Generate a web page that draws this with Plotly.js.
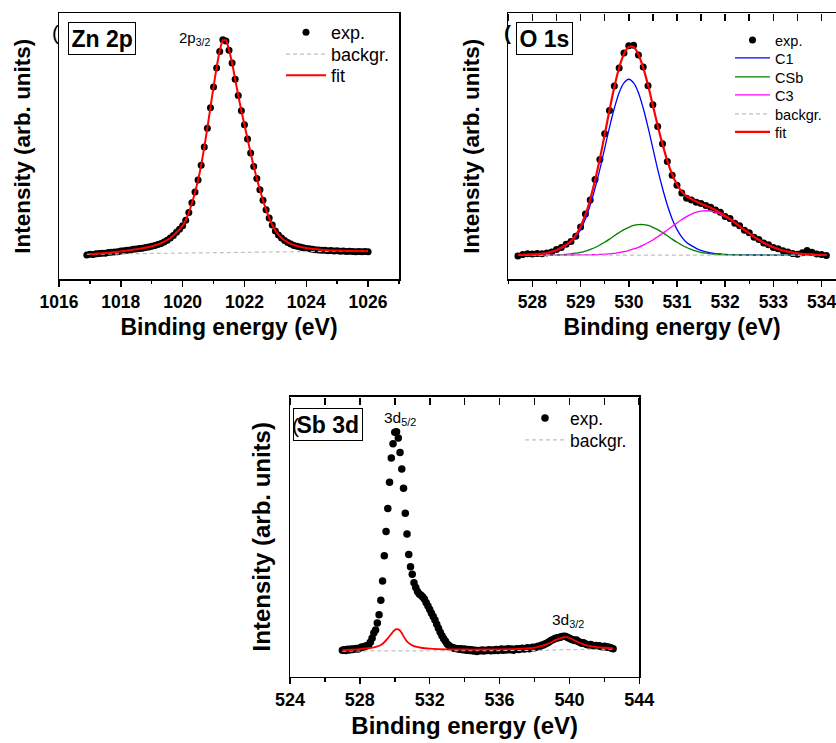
<!DOCTYPE html>
<html>
<head>
<meta charset="utf-8">
<script src="https://cdn.plot.ly/plotly-3.0.1.min.js"></script>
<style>html,body{margin:0;padding:0;background:#fff;}#chart{width:836px;height:743px;}</style>
</head>
<body>
<div id="chart"></div>
<script>
// ---------------- DATA ----------------
// Zn 2p
const znE = [1016.9,
 1017.0,1017.1,1017.2,1017.3,1017.4,1017.5,1017.6,1017.7,1017.8,1017.9,
 1018.0,1018.1,1018.2,1018.3,1018.4,1018.5,1018.6,1018.7,1018.8,1018.9,
 1019.0,1019.1,1019.2,1019.3,1019.4,1019.5,1019.6,1019.7,1019.8,1019.9,
 1020.0,1020.1,1020.2,1020.3,1020.4,1020.5,1020.6,1020.7,1020.8,1020.9,
 1021.0,1021.1,1021.2,1021.3,1021.4,1021.5,1021.6,1021.7,1021.8,1021.9,
 1022.0,1022.1,1022.2,1022.3,1022.4,1022.5,1022.6,1022.7,1022.8,1022.9,
 1023.0,1023.1,1023.2,1023.3,1023.4,1023.5,1023.6,1023.7,1023.8,1023.9,
 1024.0,1024.1,1024.2,1024.3,1024.4,1024.5,1024.6,1024.7,1024.8,1024.9,
 1025.0,1025.1,1025.2,1025.3,1025.4,1025.5,1025.6,1025.7,1025.8,1025.9,
 1026.0];
const znExp = [0.000,
 0.003,0.002,0.005,0.006,0.008,0.008,0.011,0.012,0.014,0.015,
 0.018,0.019,0.022,0.023,0.026,0.027,0.030,0.031,0.034,0.036,
 0.040,0.043,0.048,0.053,0.060,0.068,0.078,0.090,0.104,0.118,
 0.134,0.160,0.196,0.240,0.290,0.346,0.414,0.498,0.584,0.678,
 0.774,0.862,0.938,0.992,0.986,0.944,0.885,0.810,0.735,0.665,
 0.600,0.535,0.470,0.408,0.352,0.300,0.252,0.208,0.170,0.138,
 0.110,0.092,0.078,0.066,0.057,0.050,0.044,0.040,0.036,0.033,
 0.030,0.028,0.026,0.024,0.023,0.022,0.021,0.019,0.020,0.018,
 0.019,0.017,0.018,0.016,0.017,0.016,0.015,0.016,0.015,0.016,
 0.015];
const znFitE = [1017.0,1017.5,1018.0,1018.5,1019.0,1019.3,1019.6,1019.8,
 1020.0,1020.1,1020.2,1020.3,1020.4,1020.5,1020.6,1020.7,1020.8,1020.9,
 1021.0,1021.1,1021.2,1021.3,1021.4,1021.5,1021.6,1021.7,1021.8,1021.9,
 1022.0,1022.1,1022.2,1022.3,1022.4,1022.5,1022.6,1022.7,1022.8,1022.9,
 1023.0,1023.2,1023.4,1023.7,1024.0,1024.5,1025.0,1025.5,1026.0];
const znFit = [0.003,0.009,0.016,0.026,0.040,0.054,0.078,0.103,
 0.135,0.160,0.195,0.238,0.288,0.345,0.414,0.497,0.585,0.680,
 0.775,0.865,0.940,0.990,0.990,0.945,0.885,0.810,0.735,0.665,
 0.600,0.535,0.470,0.408,0.352,0.300,0.252,0.208,0.170,0.138,
 0.112,0.078,0.058,0.041,0.032,0.024,0.020,0.018,0.017];
const znBgE = [1016.9, 1026.0];
const znBg = [0.003, 0.019];

// O 1s
const oE = [527.7,527.8,527.9,
 528.0,528.1,528.2,528.3,528.4,528.5,528.6,528.7,528.8,528.9,
 529.0,529.1,529.2,529.3,529.4,529.5,529.6,529.7,529.8,529.9,
 530.0,530.1,530.2,530.3,530.4,530.5,530.6,530.7,530.8,530.9,
 531.0,531.1,531.2,531.3,531.4,531.5,531.6,531.7,531.8,531.9,
 532.0,532.1,532.2,532.3,532.4,532.5,532.6,532.7,532.8,532.9,
 533.0,533.1,533.2,533.3,533.4,533.5,533.6,533.7,533.8,533.9,
 534.0,534.1];
const oExp = [-0.005,0.003,0.006,
 0.005,0.007,0.006,0.010,0.014,0.026,0.036,0.052,0.064,0.090,
 0.133,0.196,0.262,0.360,0.455,0.578,0.688,0.805,0.890,0.962,
 0.997,0.999,0.952,0.895,0.806,0.716,0.612,0.530,0.446,0.380,
 0.332,0.296,0.270,0.262,0.252,0.246,0.236,0.228,0.214,0.204,
 0.184,0.174,0.152,0.140,0.118,0.106,0.085,0.074,0.057,0.049,
 0.036,0.030,0.020,0.015,0.007,0.004,0.011,0.022,0.013,0.005,
 0.003,-0.002];
const oC1 = [0.001,0.0015,0.002,
 0.003,0.005,0.007,0.010,0.015,0.022,0.032,0.045,0.060,0.085,
 0.122,0.172,0.238,0.318,0.408,0.508,0.608,0.699,0.773,0.820,
 0.837,0.820,0.773,0.699,0.608,0.508,0.408,0.318,0.238,0.172,
 0.122,0.085,0.060,0.045,0.032,0.022,0.015,0.010,0.007,0.005,
 0.003,0.002,0.0015,0.001,0.0005,0.0004,0.0003,0.0002,0.0001,0,
 0,0,0,0,0,0,0,0,0,0,
 0,0];
const oCSb = [0,0,0,
 0.0001,0.0001,0.0002,0.0004,0.0007,0.0013,0.0023,0.0036,0.0057,0.0088,
 0.013,0.019,0.027,0.036,0.048,0.061,0.076,0.092,0.107,0.121,
 0.132,0.141,0.145,0.145,0.141,0.132,0.121,0.107,0.092,0.076,
 0.061,0.048,0.036,0.027,0.019,0.013,0.009,0.006,0.004,0.0023,
 0.0013,0.0007,0.0004,0.0002,0.0001,0,0,0,0,0,
 0,0,0,0,0,0,0,0,0,0,
 0,0];
const oC3 = [0,0,0,
 0,0,0,0,0,0,0.0001,0.0001,0.0002,0.0003,
 0.0005,0.0008,0.0012,0.0019,0.0029,0.0042,0.006,0.0085,0.012,0.016,
 0.022,0.029,0.037,0.047,0.059,0.072,0.087,0.103,0.119,0.136,
 0.153,0.169,0.183,0.195,0.204,0.209,0.211,0.209,0.204,0.195,
 0.183,0.169,0.153,0.136,0.119,0.103,0.087,0.072,0.059,0.047,
 0.037,0.029,0.022,0.016,0.012,0.0085,0.006,0.0042,0.0029,0.0019,
 0.0012,0.0008];
const oFit = [0.001,0.0015,0.002,
 0.003,0.005,0.007,0.010,0.016,0.023,0.035,0.049,0.066,0.094,
 0.136,0.192,0.266,0.356,0.459,0.573,0.690,0.800,0.892,0.957,
 0.991,0.990,0.955,0.891,0.808,0.712,0.616,0.528,0.449,0.384,
 0.336,0.302,0.279,0.267,0.255,0.244,0.235,0.225,0.215,0.202,
 0.187,0.172,0.155,0.137,0.120,0.104,0.087,0.072,0.059,0.047,
 0.037,0.029,0.022,0.016,0.012,0.0085,0.006,0.0042,0.0029,0.0019,
 0.0012,0.0008];
const oBgE = [527.7, 534.1];
const oBg = [0, 0];

// Sb 3d
const sbE = [
 527.0,527.1,527.2,527.3,527.4,527.5,527.6,527.7,527.8,527.9,
 528.0,528.1,528.2,528.3,528.4,528.5,528.6,528.7,528.8,528.9,
 529.0,529.1,529.2,529.3,529.4,529.5,529.6,529.7,529.8,529.9,
 530.0,530.1,530.2,530.3,530.4,530.5,530.6,530.7,530.8,530.9,
 531.0,531.1,531.2,531.3,531.4,531.5,531.6,531.7,531.8,531.9,
 532.0,532.1,532.2,532.3,532.4,532.5,532.6,532.7,532.8,532.9,
 533.0,533.1,533.2,533.3,533.4,533.5,533.6,533.7,533.8,533.9,
 534.0,534.1,534.2,534.3,534.4,534.5,534.6,534.7,534.8,534.9,
 535.0,535.1,535.2,535.3,535.4,535.5,535.6,535.7,535.8,535.9,
 536.0,536.1,536.2,536.3,536.4,536.5,536.6,536.7,536.8,536.9,
 537.0,537.1,537.2,537.3,537.4,537.5,537.6,537.7,537.8,537.9,
 538.0,538.1,538.2,538.3,538.4,538.5,538.6,538.7,538.8,538.9,
 539.0,539.1,539.2,539.3,539.4,539.5,539.6,539.7,539.8,539.9,
 540.0,540.1,540.2,540.3,540.4,540.5,540.6,540.7,540.8,540.9,
 541.0,541.1,541.2,541.3,541.4,541.5,541.6,541.7,541.8,541.9,
 542.0,542.1,542.2,542.3,542.4,542.5];
const sbExp = [
 0.004,0.006,0.003,0.008,0.005,0.009,0.007,0.010,0.012,0.009,
 0.014,0.018,0.016,0.022,0.024,0.028,0.040,0.058,0.082,0.096,
 0.128,0.165,0.232,0.320,0.435,0.545,0.650,0.770,0.880,0.945,
 0.998,1.000,0.972,0.906,0.830,0.742,0.628,0.534,0.440,0.385,
 0.350,0.312,0.290,0.272,0.260,0.254,0.247,0.236,0.220,0.205,
 0.190,0.172,0.158,0.142,0.122,0.104,0.086,0.070,0.056,0.045,
 0.032,0.025,0.019,0.016,0.013,0.012,0.010,0.008,0.011,0.006,
 0.009,0.004,0.007,0.003,0.006,0.000,0.004,-0.002,0.003,0.001,
 0.005,0.000,0.004,0.002,0.006,0.001,0.005,0.003,0.007,0.002,
 0.006,0.009,0.004,0.008,0.005,0.010,0.006,0.009,0.004,0.008,
 0.011,0.007,0.010,0.013,0.009,0.012,0.015,0.011,0.014,0.017,
 0.015,0.018,0.022,0.021,0.026,0.028,0.032,0.036,0.040,0.046,
 0.050,0.054,0.058,0.060,0.062,0.064,0.066,0.068,0.066,0.062,
 0.058,0.054,0.052,0.048,0.050,0.044,0.040,0.036,0.038,0.033,
 0.030,0.028,0.030,0.026,0.024,0.025,0.022,0.024,0.021,0.020,
 0.022,0.018,0.019,0.016,0.014,0.010];
const sbFitE = [527.0,527.5,528.0,528.5,528.8,529.0,529.2,529.4,529.6,529.8,529.9,
 530.0,530.1,530.2,530.3,530.4,530.5,530.6,530.7,530.8,531.0,531.2,531.5,
 532.0,532.5,533.0,534.0,535.0,536.0,537.0,537.5,538.0,538.3,538.6,538.9,
 539.2,539.5,539.7,539.9,540.1,540.3,540.5,540.8,541.1,541.5,542.0,542.5];
const sbFit = [0.004,0.006,0.009,0.013,0.017,0.021,0.028,0.040,0.058,0.078,0.088,
 0.096,0.100,0.099,0.093,0.082,0.068,0.055,0.044,0.036,0.026,0.020,0.015,
 0.011,0.009,0.008,0.007,0.007,0.008,0.010,0.012,0.016,0.021,0.028,0.038,
 0.050,0.059,0.063,0.062,0.056,0.048,0.040,0.030,0.024,0.019,0.015,0.012];
const sbBgE = [527.0, 537.0, 538.5, 539.5, 540.5, 542.5];
const sbBg = [0.000, 0.001, 0.003, 0.006, 0.008, 0.009];

// Text
const xTitle = 'Binding energy (eV)';
const yTitle = 'Intensity (arb. units)';
const panelLabels = ['Zn 2p', 'O 1s', 'Sb 3d'];
const peakLabels = ['2p<sub>3/2</sub>', '3d<sub>5/2</sub>', '3d<sub>3/2</sub>'];

// ---------------- LAYOUT HELPERS ----------------
const W = 836, H = 743;
const FONT = 'Liberation Sans, Arial, Helvetica, sans-serif';
const fx = p => p / W;
const fy = p => 1 - p / H;

const expMarker = {color: '#000', size: 7};
const bgLine = {color: '#c0c0c0', width: 1.2, dash: '4px,3px'};
const fitLine = {color: '#ff0000', width: 2, shape: 'spline', smoothing: 0.6};
const ghost = {color: 'rgba(0,0,0,0)', width: 0.1};

const traces = [
  {x: znE, y: znExp, mode: 'markers', name: 'exp.', marker: expMarker, xaxis: 'x', yaxis: 'y', legend: 'legend'},
  {x: znBgE, y: znBg, mode: 'lines', name: 'backgr.', line: bgLine, xaxis: 'x', yaxis: 'y', legend: 'legend2'},
  {x: znFitE, y: znFit, mode: 'lines', name: 'fit', line: fitLine, xaxis: 'x', yaxis: 'y', legend: 'legend3'},

  {x: oE, y: oExp, mode: 'markers', name: 'exp.', marker: expMarker, xaxis: 'x2', yaxis: 'y2', legend: 'legend4'},
  {x: oE, y: oC1, mode: 'lines', name: 'C1', line: {color: '#0000ff', width: 1.3, shape: 'spline'}, xaxis: 'x2', yaxis: 'y2', legend: 'legend5'},
  {x: oE, y: oCSb, mode: 'lines', name: 'CSb', line: {color: '#008000', width: 1.3, shape: 'spline'}, xaxis: 'x2', yaxis: 'y2', legend: 'legend6'},
  {x: oE, y: oC3, mode: 'lines', name: 'C3', line: {color: '#ff00ff', width: 1.3, shape: 'spline'}, xaxis: 'x2', yaxis: 'y2', legend: 'legend7'},
  {x: oBgE, y: oBg, mode: 'lines', name: 'backgr.', line: bgLine, xaxis: 'x2', yaxis: 'y2', legend: 'legend8'},
  {x: oE, y: oFit, mode: 'lines', name: 'fit', line: {color: '#ff0000', width: 2.2, shape: 'spline'}, xaxis: 'x2', yaxis: 'y2', legend: 'legend9'},

  {x: sbE, y: sbExp, mode: 'markers', name: 'exp.', marker: {color: '#000', size: 7.5}, xaxis: 'x3', yaxis: 'y3', legend: 'legend10'},
  {x: sbBgE, y: sbBg, mode: 'lines', name: 'backgr.', line: bgLine, xaxis: 'x3', yaxis: 'y3', legend: 'legend11'},
  {x: sbFitE, y: sbFit, mode: 'lines', name: 'fit', line: {color: '#ff0000', width: 1.8, shape: 'spline'}, xaxis: 'x3', yaxis: 'y3', showlegend: false},

  // invisible carriers for the thin strip subplots that hold the top (inward) ticks of panels 2 and 3
  {x: oBgE, y: oBg, mode: 'lines', line: ghost, xaxis: 'x4', yaxis: 'y4', showlegend: false, hoverinfo: 'skip'},
  {x: sbBgE, y: sbBg, mode: 'lines', line: ghost, xaxis: 'x5', yaxis: 'y5', showlegend: false, hoverinfo: 'skip'}
];

function xAxis(domain, range, dtick, minor, anchor, tickSize, titleSize, standoff) {
  return {
    domain: domain, range: range, anchor: anchor, dtick: dtick, tick0: range[0] - (range[0] % dtick),
    ticks: 'outside', ticklen: 6, tickwidth: 1.5, tickcolor: '#000',
    minor: {dtick: minor, ticks: 'outside', ticklen: 3.5, tickwidth: 1.5, tickcolor: '#000'},
    showline: true, linecolor: '#000', linewidth: 1.5, mirror: true,
    showgrid: false, zeroline: false, fixedrange: true, ticklabeloverflow: 'allow',
    tickfont: {family: FONT, size: tickSize, color: '#000', weight: 'bold'},
    title: {text: xTitle, font: {family: FONT, size: titleSize, color: '#000', weight: 'bold'}, standoff: standoff}
  };
}
function yAxis(domain, range, anchor, titleSize, standoff, mirror) {
  return {
    domain: domain, range: range, anchor: anchor,
    showticklabels: false, ticks: '', showgrid: false, zeroline: false, fixedrange: true,
    showline: true, linecolor: '#000', linewidth: 1.5, mirror: mirror,
    title: {text: yTitle, font: {family: FONT, size: titleSize, color: '#000', weight: 'bold'}, standoff: standoff}
  };
}
// x axis of a thin strip sitting on a panel's top edge: its outside ticks point down into the panel
function stripXAxis(domain, range, dtick, anchor) {
  return {
    domain: domain, range: range, autorange: false, side: 'bottom', anchor: anchor,
    tickmode: 'linear', dtick: dtick, tick0: 0,
    ticks: 'outside', ticklen: 7, tickwidth: 1.6, tickcolor: '#000', showticklabels: false,
    showline: false, showgrid: false, zeroline: false
  };
}
function stripYAxis(pxTop, anchor) {
  return {domain: [fy(pxTop), fy(pxTop - 1)], anchor: anchor, range: [0, 1], visible: false};
}

const dom1x = [fx(59), fx(399)], dom2x = [fx(508.3), 1], dom3x = [fx(290), fx(639.3)];
const domTopY = [fy(279), fy(13.3)], domBotY = [fy(676.7), fy(396.7)];
const range1 = [1016, 1027], range2 = [527.5, 534.3], range3 = [524, 544];

// one legend per entry so each row sits where the reference puts it
function legendAt(pxX, pxC, size, iw, offset) {
  return {x: fx(pxX), y: fy(pxC - offset), xref: 'paper', yref: 'paper', xanchor: 'left', yanchor: 'top',
    bgcolor: 'rgba(0,0,0,0)', borderwidth: 0, itemwidth: iw, tracegroupgap: 0,
    font: {family: FONT, size: size, color: '#000'}};
}

function ann(text, pxX, pxY, size, bold, extra) {
  return Object.assign({text: text, x: fx(pxX), y: fy(pxY), xref: 'paper', yref: 'paper',
    showarrow: false, xanchor: 'center', yanchor: 'middle',
    font: {family: FONT, size: size, color: '#000', weight: bold ? 'bold' : 'normal'}}, extra || {});
}
const boxStyle = {bordercolor: '#000', borderwidth: 1, bgcolor: '#fff', borderpad: 2.5};

const layout = {
  width: W, height: H, margin: {l: 0, r: 0, t: 0, b: 0},
  paper_bgcolor: '#fff', plot_bgcolor: 'rgba(0,0,0,0)', font: {family: FONT, color: '#000'},
  xaxis: xAxis(dom1x, range1, 2, 1, 'y', 17.5, 23, 8),
  yaxis: yAxis(domTopY, [-0.111, 1.114], 'x', 22.5, 20, true),
  xaxis2: xAxis(dom2x, range2, 1, 0.5, 'y2', 17.5, 23, 8),
  yaxis2: yAxis(domTopY, [-0.114, 1.151], 'x2', 22.5, 21, false),
  xaxis3: xAxis(dom3x, range3, 4, 2, 'y3', 18, 24, 8),
  yaxis3: yAxis(domBotY, [-0.117, 1.160], 'x3', 24, 11, true),
  // top ticks every minor step (0.5 eV and 2 eV), as in the reference
  xaxis4: stripXAxis(dom2x, range2, 0.5, 'y4'),
  yaxis4: stripYAxis(13.3, 'x4'),
  xaxis5: stripXAxis(dom3x, range3, 2, 'y5'),
  yaxis5: stripYAxis(396.7, 'x5'),
  legend:   legendAt(281, 33, 18, 40, 19),
  legend2:  legendAt(281, 55, 18, 40, 19),
  legend3:  legendAt(281, 76, 18, 40, 19),
  legend4:  legendAt(730, 40, 14.5, 35, 16),
  legend5:  legendAt(730, 58, 14.5, 35, 16),
  legend6:  legendAt(730, 77, 14.5, 35, 16),
  legend7:  legendAt(730, 95, 14.5, 35, 16),
  legend8:  legendAt(730, 114, 14.5, 35, 16),
  legend9:  legendAt(730, 132, 14.5, 35, 16),
  legend10: legendAt(520, 419, 17.5, 40, 19),
  legend11: legendAt(520, 441, 17.5, 40, 19),
  annotations: [
    ann(panelLabels[0], 101.5, 39, 23, true, boxStyle),
    ann(panelLabels[1], 544, 38.5, 23, true, boxStyle),
    ann(panelLabels[2], 328, 424.5, 23, true, boxStyle),
    ann('(', 55, 33, 21, false),
    ann('(', 508, 32, 21, true),
    ann('(', 295, 426, 21, false),
    ann(peakLabels[0], 194, 39, 15, false),
    ann(peakLabels[1], 400, 418, 15.5, false),
    ann(peakLabels[2], 568, 620, 15.5, false)
  ],
  showlegend: true
};

Plotly.newPlot('chart', traces, layout, {displayModeBar: false, responsive: false, staticPlot: true});
</script>
</body>
</html>
